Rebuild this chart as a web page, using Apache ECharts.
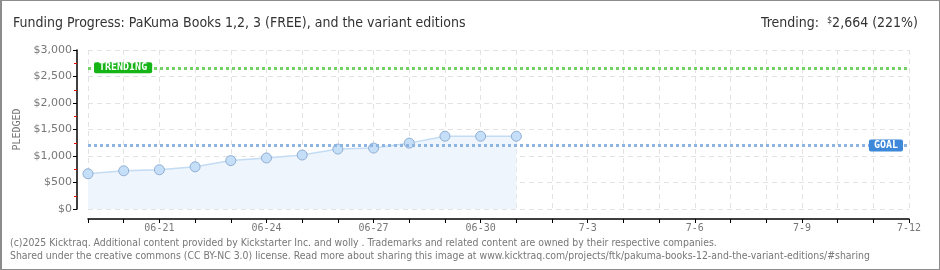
<!DOCTYPE html>
<html>
<head>
<meta charset="UTF-8">
<title>Funding Progress</title>
<script src="https://cdn.jsdelivr.net/npm/echarts@6/dist/echarts.min.js"></script>
<style>
  html, body { margin: 0; padding: 0; background: #fff; }
  #main { width: 940px; height: 270px; box-sizing: border-box;
          border: 1px solid #8c8c8c; border-left: 2px solid #8c8c8c; }
</style>
</head>
<body>
<div id="main"></div>
<script>
// days on the x axis
var days = ['06-19','06-20','06-21','06-22','06-23','06-24','06-25','06-26','06-27','06-28','06-29','06-30',
            '7-1','7-2','7-3','7-4','7-5','7-6','7-7','7-8','7-9','7-10','7-11','7-12'];
// pledged amount per day
var pledged = [665, 721, 740, 796, 913, 963, 1019, 1131, 1150, 1243, 1373, 1373, 1373];
var goal = 1200;
var trending = 2664;

function money(v) {
  return '$' + String(v).replace(/\B(?=(\d{3})+(?!\d))/g, ',');
}

var chart = echarts.init(document.getElementById('main'));

chart.setOption({
  animation: false,
  title: [{
    text: 'Funding Progress: PaKuma Books 1,2, 3 (FREE), and the variant editions',
    left: 6, top: 10,
    textStyle: { fontFamily: 'DejaVu Sans Condensed', fontSize: 14, fontWeight: 'normal', color: '#333' }
  }, {
    text: 'Trending:  {s|$}2,664 (221%)',
    right: 16, top: 10,
    textStyle: {
      fontFamily: 'DejaVu Sans Condensed', fontSize: 14, fontWeight: 'normal', color: '#333',
      rich: { s: { fontFamily: 'DejaVu Sans Condensed', fontSize: 9, color: '#333', verticalAlign: 'top', padding: [0, 0, 6, 0] } }
    }
  }],
  graphic: [{
    type: 'text', left: 8, top: 237,
    style: { text: '(c)2025 Kicktraq. Additional content provided by Kickstarter Inc. and wolly . Trademarks and related content are owned by their respective companies.',
             fill: '#777', font: '10.4px "DejaVu Sans Condensed"' }
  }, {
    type: 'text', left: 8, top: 250,
    style: { text: 'Shared under the creative commons (CC BY-NC 3.0) license. Read more about sharing this image at www.kicktraq.com/projects/ftk/pakuma-books-12-and-the-variant-editions/#sharing',
             fill: '#777', font: '10.4px "DejaVu Sans Condensed"' }
  }],
  grid: { left: 86, right: 30, top: 49, bottom: 60 },
  xAxis: {
    type: 'category',
    data: days,
    boundaryGap: false,
    offset: 10,
    axisLine: { onZero: false, lineStyle: { color: '#000', width: 1.5 } },
    axisTick: { interval: 0, length: 4, lineStyle: { color: '#000' } },
    axisLabel: {
      interval: function (i) { return i % 3 === 2; },
      color: '#777', fontSize: 10, fontFamily: 'DejaVu Sans Mono', margin: 4
    },
    splitLine: { show: true, interval: 0, lineStyle: { color: '#e2e2e2', type: [5, 4] } }
  },
  yAxis: {
    type: 'value',
    min: 0, max: 3000, interval: 500,
    offset: 11,
    name: 'PLEDGED',
    nameLocation: 'middle',
    nameRotate: 90,
    nameGap: 54,
    nameTextStyle: { color: '#777', fontSize: 10, fontFamily: 'DejaVu Sans Mono' },
    axisLine: { show: true, lineStyle: { color: '#000', width: 1.5 } },
    axisTick: { show: true, length: 4, lineStyle: { color: '#000' } },
    minorTick: { show: true, splitNumber: 2, length: 3, lineStyle: { color: '#e00' } },
    axisLabel: {
      formatter: money, color: '#777', fontSize: 11, fontFamily: 'DejaVu Sans', margin: 5
    },
    splitLine: { show: true, lineStyle: { color: '#e2e2e2', type: [5, 4] } }
  },
  series: [{
    type: 'line',
    data: pledged,
    symbol: 'circle',
    symbolSize: 10,
    itemStyle: { color: '#c6dff8', borderColor: '#8fadd3', borderWidth: 1 },
    lineStyle: { color: '#c3dcf4', width: 1.5 },
    areaStyle: { color: '#eef5fd', opacity: 1 },
    markLine: {
      silent: true,
      symbol: 'none',
      data: [{
        yAxis: trending,
        lineStyle: { color: '#72d064', type: 'dotted', width: 3 },
        label: {
          show: true, position: 'insideStart', formatter: 'TRENDING', distance: 6,
          color: '#fff', backgroundColor: '#16b416', borderRadius: 2,
          padding: [1, 5, 0, 5], fontSize: 10, fontFamily: 'DejaVu Sans Mono', fontWeight: 'bold'
        }
      }, {
        yAxis: goal,
        lineStyle: { color: '#8eb4e2', type: 'dotted', width: 3 },
        label: {
          show: true, position: 'insideEnd', formatter: 'GOAL', distance: 6,
          color: '#fff', backgroundColor: '#3d88d9', borderRadius: 2,
          padding: [1, 5, 1, 5], fontSize: 10, fontFamily: 'DejaVu Sans Mono', fontWeight: 'bold'
        }
      }]
    }
  }]
});
</script>
</body>
</html>
